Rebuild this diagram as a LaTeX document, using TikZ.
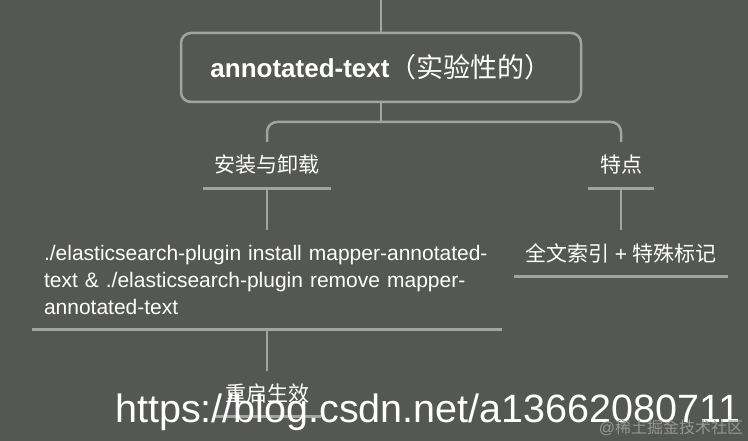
\documentclass[tikz,border=0pt]{standalone}
\usepackage{fontspec}
\setmainfont{Liberation Sans}
\newfontfamily\cjk{Noto Sans CJK SC}
\definecolor{bgcol}{RGB}{85,87,84}
\definecolor{linecol}{RGB}{163,164,161}
\definecolor{wmgray}{RGB}{150,151,149}
\begin{document}
\begin{tikzpicture}[x=1pt,y=-1pt,
  conn/.style={draw=linecol,line width=2.5pt},
  uline/.style={draw=linecol,line width=2.7pt},
  topic/.style={text=white,inner sep=0pt,font=\fontsize{21}{27}\selectfont},
  rootbox/.style={draw=linecol,line width=2.5pt,rounded corners=10pt,text=white,
    minimum width=400pt,minimum height=69pt,inner sep=0pt}]
\fill[bgcol] (0,0) rectangle (748,441);
\useasboundingbox (0,0) rectangle (748,441);
% root
\coordinate (ctop) at (381,0);
\node[rootbox] (root) at (381,67.5) {{\fontsize{26}{30}\selectfont\bfseries annotated-text}{\fontsize{27}{30}\selectfont\cjk （实验性的）}};
\draw[conn] (ctop) -- (root.north);
\coordinate (bus) at (381,122);
% level 1
\node[topic,minimum width=128pt,minimum height=46pt] (install) at (267,165) {\cjk 安装与卸载};
\node[topic,minimum width=66pt,minimum height=46pt] (feature) at (621,165) {\cjk 特点};
\draw[uline] (install.south west) -- (install.south east);
\draw[uline] (feature.south west) -- (feature.south east);
\draw[conn] (root.south) -- (bus);
\draw[conn,rounded corners=10pt] (install.north) -- (install.north |- bus) -- (feature.north |- bus) -- (feature.north);
% level 2
\node[topic,minimum width=470pt,minimum height=99pt,text width=446pt,align=left,inner xsep=12pt] (cmd) at (267,279.5)
  {./elasticsearch-plugin install mapper-annotated-\\text \& ./elasticsearch-plugin remove mapper-\\annotated-text};
\draw[uline] (cmd.south west) -- (cmd.south east);
\draw[conn] (install.south) -- (cmd.north);
\node[topic,minimum width=214pt,minimum height=46pt] (fulltext) at (621,253) {{\cjk 全文索引} + {\cjk 特殊标记}};
\draw[uline] (fulltext.south west) -- (fulltext.south east);
\draw[conn] (feature.south) -- (fulltext.north);
% level 3
\node[topic,minimum width=108pt,minimum height=45pt] (restart) at (267,393.5) {\cjk 重启生效};
\draw[uline] (restart.south west) -- (restart.south east);
\draw[conn] (cmd.south) -- (restart.north);
% watermarks
\node[anchor=base west,inner sep=0pt,text=white,font=\fontsize{39.5}{40}\selectfont] (wm) at (115,422) {https://blog.csdn.net/a13662080711};
\node[inner sep=0pt,text=wmgray,font=\fontsize{16}{18}\selectfont] (wm2) at (671,428) {@{\cjk 稀土掘金技术社区}};
\end{tikzpicture}
\end{document}
